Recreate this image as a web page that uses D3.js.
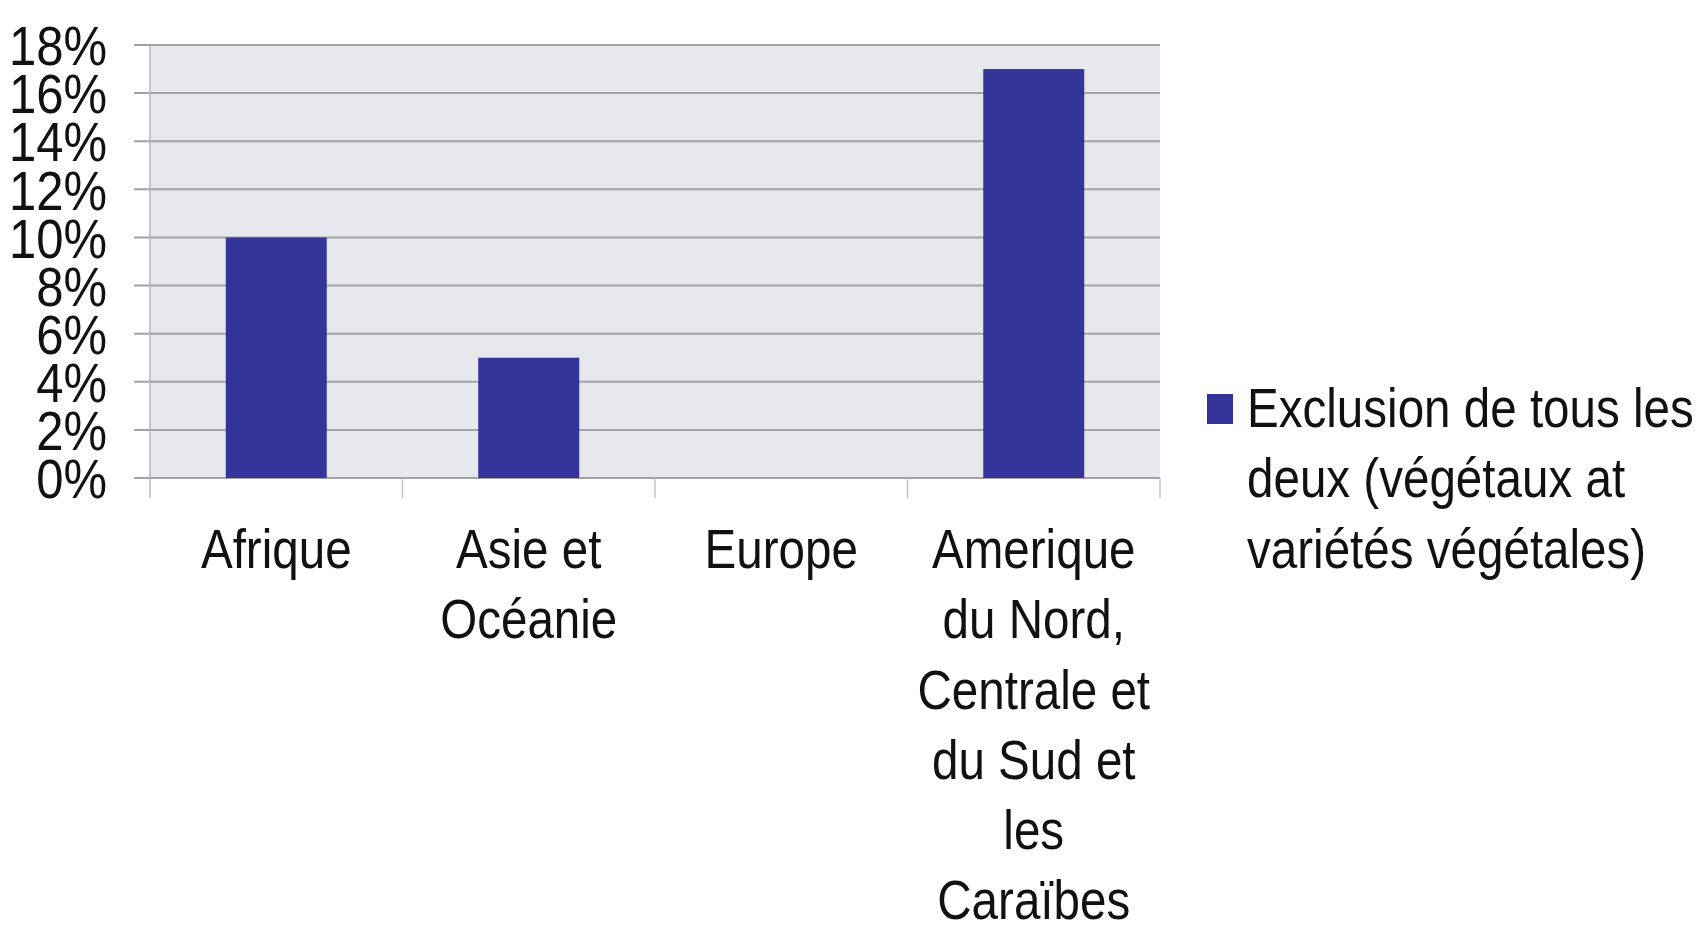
<!DOCTYPE html>
<html>
<head>
<meta charset="utf-8">
<script src="https://cdn.jsdelivr.net/npm/d3@7"></script>
<style>
  body { margin: 0; background: #fff; }
  text { font-family: "Liberation Sans", Arial, sans-serif; fill: #111; }
</style>
</head>
<body>
<div id="chart"></div>
<script>
var categories = [
    ["Afrique"],
    ["Asie et", "Océanie"],
    ["Europe"],
    ["Amerique", "du Nord,", "Centrale et", "du Sud et", "les", "Caraïbes"]
];
var values = [10, 5, 0, 17];
var yTicks = [0, 2, 4, 6, 8, 10, 12, 14, 16, 18];
var legendLines = ["Exclusion de tous les", "deux (végétaux at", "variétés végétales)"];

(function() {
    var width = 1700,
        height = 927;
    var margin = {left: 150, top: 45, right: 540, bottom: 449};
    var w = width - margin.left - margin.right,
        h = height - margin.top - margin.bottom;
    var narrow = 0.865; // squeeze to look like a narrow face

    var svg = d3.select("#chart")
        .append("svg")
        .attr("width", width)
        .attr("height", height);

    var g = svg.append("g")
        .attr("transform", "translate(" + margin.left + "," + margin.top + ")");

    var x = d3.scaleBand()
        .domain(d3.range(categories.length))
        .range([0, w])
        .paddingInner(0.6)
        .paddingOuter(0.3);

    var y = d3.scaleLinear().domain([0, 18]).range([h, 0]);

    // plot background
    g.append("rect")
        .attr("width", w)
        .attr("height", h)
        .attr("fill", "#e7e8ed");

    // gridlines, running a bit left of the axis
    g.selectAll(".grid")
        .data(yTicks)
        .enter().append("line")
        .attr("x1", -16)
        .attr("x2", w)
        .attr("y1", function(d) { return y(d); })
        .attr("y2", function(d) { return y(d); })
        .attr("stroke", "#a3a3a6")
        .attr("stroke-width", 2);

    // y axis line
    g.append("line")
        .attr("x1", 0).attr("x2", 0)
        .attr("y1", 0).attr("y2", h + 20)
        .attr("stroke", "#b5b5b8")
        .attr("stroke-width", 1.5);

    // category separators under the axis
    var step = x.step();
    g.selectAll(".ctick")
        .data(d3.range(1, categories.length + 1))
        .enter().append("line")
        .attr("x1", function(d) { return d * step; })
        .attr("x2", function(d) { return d * step; })
        .attr("y1", h)
        .attr("y2", h + 20)
        .attr("stroke", "#c4c4c6")
        .attr("stroke-width", 1.5);

    g.selectAll(".bar")
        .data(values)
        .enter().append("rect")
        .attr("class", "bar")
        .attr("x", function(d, i) { return x(i); })
        .attr("width", x.bandwidth())
        .attr("y", function(d) { return y(d); })
        .attr("height", function(d) { return h - y(d); })
        .attr("fill", "#34349a");

    // y labels
    g.selectAll(".ylab")
        .data(yTicks)
        .enter().append("text")
        .attr("transform", function(d) {
            return "translate(-43," + y(d) + ") scale(0.875,1)";
        })
        .attr("dy", "0.36em")
        .attr("text-anchor", "end")
        .attr("font-size", 56)
        .text(function(d) { return d + "%"; });

    // category labels
    var labels = g.selectAll(".xlab")
        .data(categories)
        .enter().append("text")
        .attr("text-anchor", "middle")
        .attr("font-size", 55)
        .attr("transform", function(d, i) {
            return "translate(" + (x(i) + x.bandwidth() / 2) + "," + (h + 90) + ") scale(" + narrow + ",1)";
        });
    labels.selectAll("tspan")
        .data(function(d) { return d; })
        .enter().append("tspan")
        .attr("x", 0)
        .attr("y", function(d, i) { return i * 70.3; })
        .text(function(d) { return d; });

    // legend
    var legend = svg.append("g")
        .attr("transform", "translate(1207,394)");
    legend.append("rect")
        .attr("width", 26)
        .attr("height", 30)
        .attr("fill", "#34349a");
    legend.append("text")
        .attr("font-size", 55)
        .attr("transform", "translate(40,33) scale(" + narrow + ",1)")
        .selectAll("tspan")
        .data(legendLines)
        .enter().append("tspan")
        .attr("x", 0)
        .attr("y", function(d, i) { return i * 70.3; })
        .text(function(d) { return d; });
})();
</script>
</body>
</html>
